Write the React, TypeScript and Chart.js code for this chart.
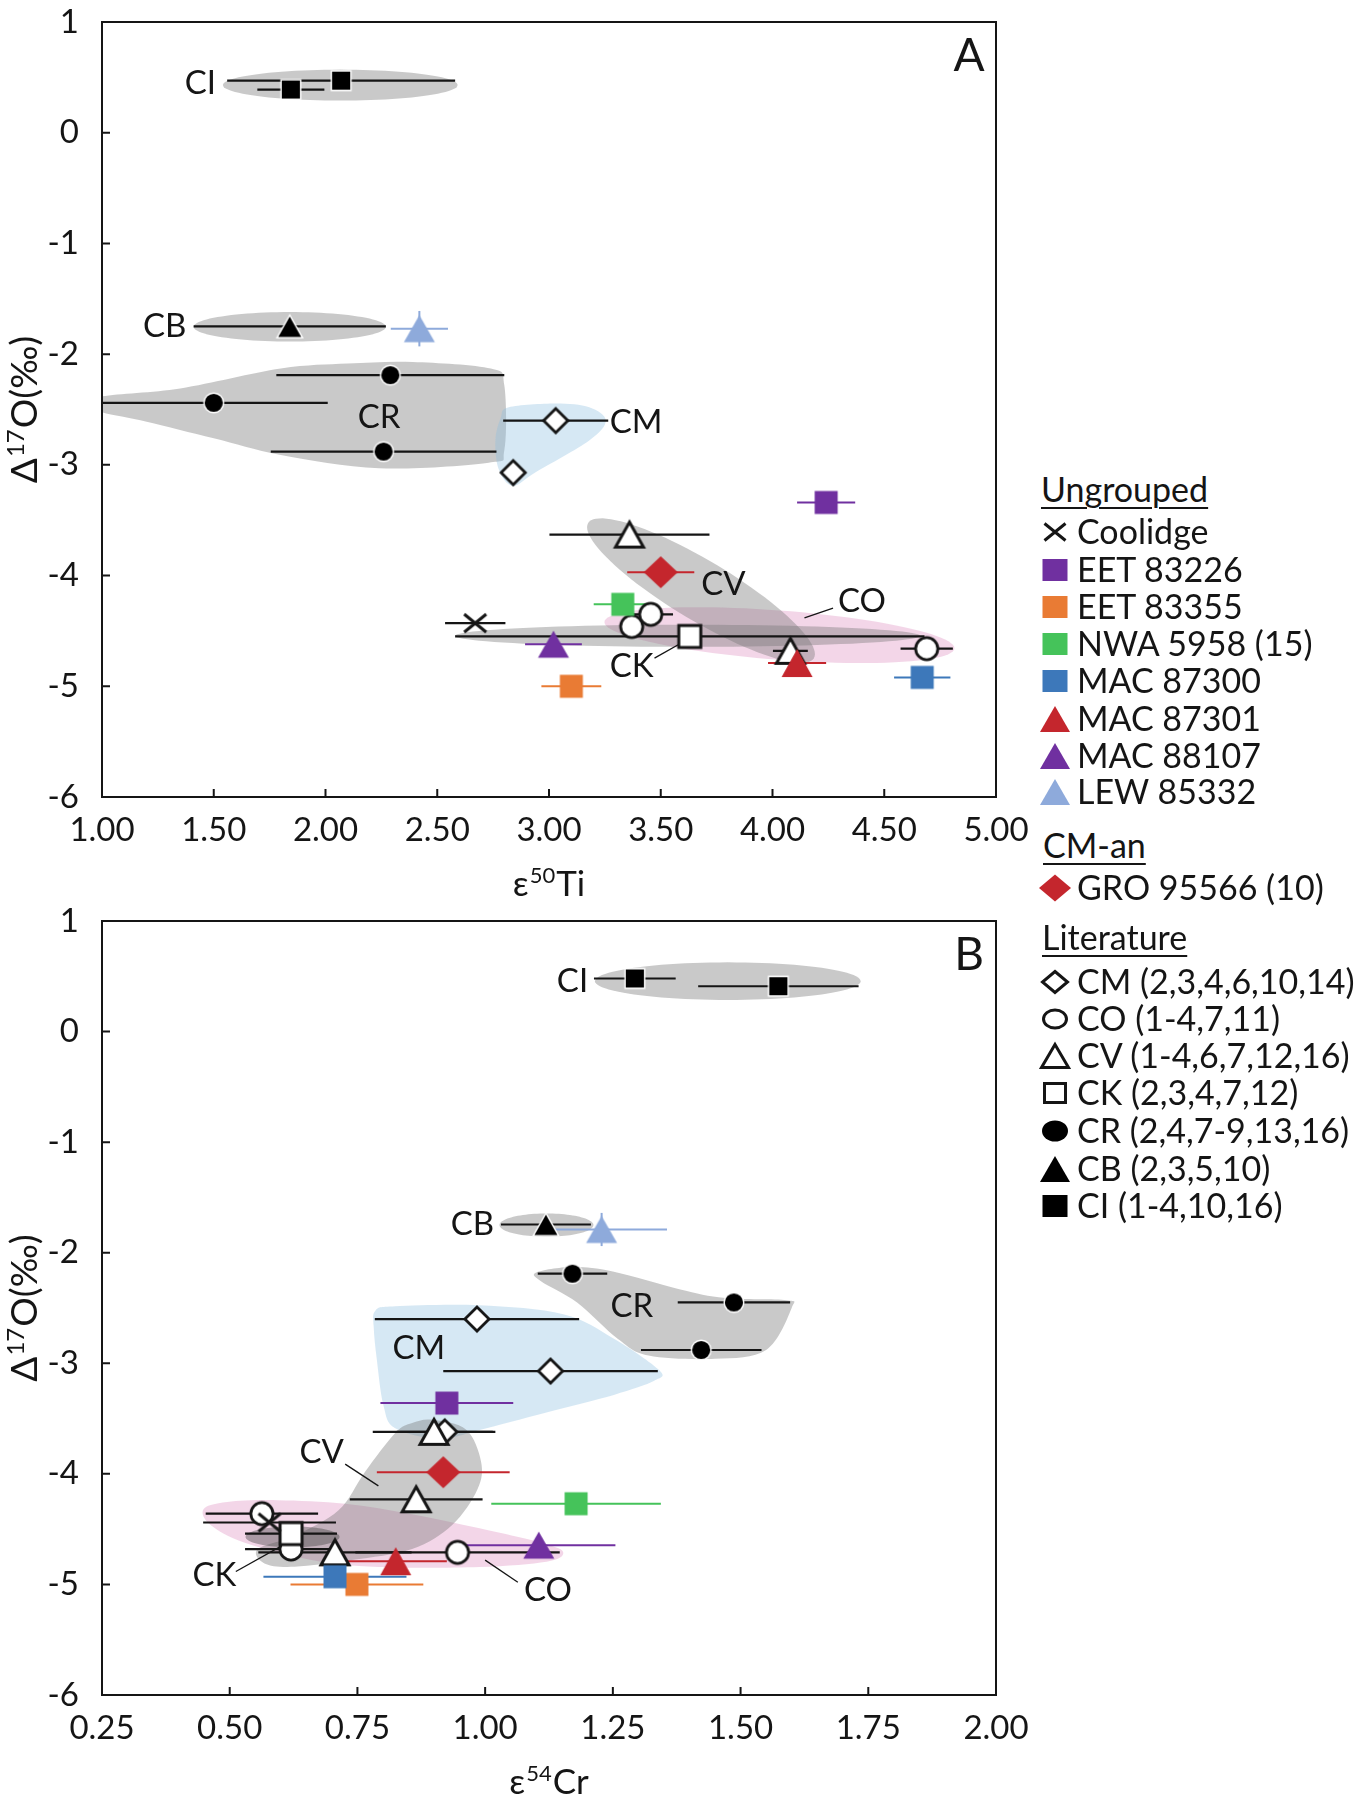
import React, { useEffect, useRef } from 'react';
import { Chart, registerables } from 'chart.js';

Chart.register(...registerables);

const FONT = 'Lato, "Noto Sans", "DejaVu Sans", sans-serif';
const INK = '#151515';
const PURPLE = '#7030a0';
const ORANGE = '#e97b34';
const GREEN = '#45c35a';
const BLUE = '#3d78ba';
const RED = '#c4262d';
const LIGHTBLUE = '#8eaadb';
const GRAY_FILL = 'rgba(120,120,120,0.40)';
const DARK_FILL = 'rgba(70,70,70,0.42)';
const BLUE_FILL = 'rgba(140,190,225,0.36)';
const PINK_FILL = 'rgba(214,120,180,0.30)';

// ===== Tick labels =====
const A_X_TICKS = [1.0, 1.5, 2.0, 2.5, 3.0, 3.5, 4.0, 4.5, 5.0];
const B_X_TICKS = [0.25, 0.5, 0.75, 1.0, 1.25, 1.5, 1.75, 2.0];
const Y_TICKS = [1, 0, -1, -2, -3, -4, -5, -6];

// ===== Panel A: x = ε50Ti, y = Δ17O (‰); each point = [x, y, ±x error] =====
const A_COOLIDGE = [[2.67, -4.43, 0.135]];
const A_EET83226 = [[4.24, -3.34, 0.13]];
const A_EET83355 = [[3.10, -5.00, 0.134]];
const A_NWA5958 = [[3.33, -4.26, 0.13]];
const A_MAC87300 = [[4.67, -4.92, 0.126]];
const A_MAC87301 = [[4.11, -4.79, 0.13]];
const A_MAC88107 = [[3.02, -4.62, 0.127]];
const A_LEW85332 = [[2.42, -1.77, 0.128]];
const A_LEW85332_YERR = [0.16];
const A_GRO95566 = [[3.50, -3.97, 0.15]];
const A_CM = [[3.03, -2.60, 0.235], [2.84, -3.07, 0]];
const A_CO = [[3.37, -4.46, 0.05], [3.455, -4.35, 0.10], [4.69, -4.66, 0.117]];
const A_CV = [[3.36, -3.63, 0.358], [4.08, -4.68, 0.078]];
const A_CK = [[3.63, -4.55, 1.05]];
const A_CR = [[2.29, -2.19, 0.51], [1.50, -2.44, 0.51], [2.26, -2.88, 0.505]];
const A_CB = [[1.84, -1.75, 0.43]];
const A_CI = [[1.845, 0.39, 0.15], [2.07, 0.47, 0.51]];

// group fields, panel A (data coordinates)
const A_CR_FIELD = [[0.98, -2.39], [1.35, -2.31], [1.80, -2.13], [2.10, -2.085], [2.39, -2.07], [2.74, -2.13], [2.80, -2.28], [2.80, -2.87], [2.73, -2.98], [2.24, -3.03], [1.80, -2.91], [1.50, -2.76], [1.20, -2.61], [0.98, -2.51]];
const A_CM_FIELD = [[2.82, -2.48], [3.03, -2.446], [3.18, -2.48], [3.254, -2.60], [3.18, -2.78], [2.94, -3.067], [2.838, -3.19], [2.775, -3.04], [2.76, -2.78], [2.784, -2.575]];
// ellipses: [cx, cy, ux, uy, vx, vy]
const A_CI_ELLIPSE = [2.066, 0.43, 0.525, 0, 0, 0.14];
const A_CB_ELLIPSE = [1.84, -1.753, 0.43, 0, 0, 0.133];
const A_CO_ELLIPSE = [4.031, -4.538, 0.783, -0.118, 0, 0.223];
const A_CV_ELLIPSE = [3.68, -4.136, 0.505, -0.61, 0.069, 0.233];
const A_CK_ELLIPSE = [3.62, -4.544, 1.04, 0, 0, 0.1];

const A_GROUP_LABELS = [['CI', 1.44, 0.45], ['CB', 1.28, -1.75], ['CR', 2.24, -2.575], ['CM', 3.39, -2.62], ['CV', 3.78, -4.08], ['CO', 4.40, -4.23], ['CK', 3.37, -4.82]];
const A_LEADERS = [[4.143, -4.383, 4.271, -4.294], [3.472, -4.746, 3.59, -4.611]];

// ===== Panel B: x = ε54Cr, y = Δ17O (‰); each point = [x, y, ±x error] =====
const B_COOLIDGE = [[0.578, -4.44, 0.13]];
const B_EET83226 = [[0.925, -3.36, 0.13]];
const B_EET83355 = [[0.749, -5.00, 0.13]];
const B_NWA5958 = [[1.178, -4.27, 0.166]];
const B_MAC87300 = [[0.706, -4.93, 0.14]];
const B_MAC87301 = [[0.825, -4.79, 0.10]];
const B_MAC88107 = [[1.105, -4.645, 0.15]];
const B_LEW85332 = [[1.228, -1.79, 0.128]];
const B_LEW85332_YERR = [0.15];
const B_GRO95566 = [[0.918, -3.985, 0.13]];
const B_CM = [[0.984, -2.60, 0.20], [1.128, -3.07, 0.21], [0.921, -3.62, 0.094]];
const B_CO = [[0.563, -4.36, 0.11], [0.62, -4.68, 0.09], [0.946, -4.71, 0.20]];
const B_CV = [[0.90, -3.62, 0.12], [0.865, -4.23, 0.13], [0.706, -4.71, 0.15]];
const B_CK = [[0.62, -4.54, 0.09]];
const B_CR = [[1.171, -2.19, 0.068], [1.487, -2.45, 0.11], [1.423, -2.88, 0.118]];
const B_CB = [[1.119, -1.745, 0.088]];
const B_CI = [[1.293, 0.48, 0.08], [1.574, 0.41, 0.157]];

const B_CR_FIELD = [[1.10, -2.18], [1.17, -2.13], [1.25, -2.17], [1.38, -2.33], [1.47, -2.41], [1.59, -2.43], [1.60, -2.50], [1.55, -2.88], [1.45, -2.96], [1.32, -2.93], [1.26, -2.78], [1.18, -2.45], [1.11, -2.26]];
const B_CM_FIELD = [[0.785, -2.524], [0.824, -2.485], [0.989, -2.476], [1.153, -2.556], [1.252, -2.777], [1.341, -3.064], [1.331, -3.159], [1.252, -3.286], [1.120, -3.444], [0.989, -3.603], [0.910, -3.683], [0.824, -3.587], [0.801, -3.381], [0.788, -2.968], [0.782, -2.682]];
const B_CO_FIELD = [[0.449, -4.318], [0.495, -4.254], [0.594, -4.238], [0.726, -4.270], [0.857, -4.365], [0.989, -4.493], [1.120, -4.636], [1.153, -4.715], [1.120, -4.794], [0.989, -4.842], [0.791, -4.842], [0.660, -4.778], [0.528, -4.621], [0.462, -4.461]];
const B_CV_FIELD = [[0.897, -3.51], [0.963, -3.60], [0.992, -3.89], [0.985, -4.14], [0.936, -4.46], [0.857, -4.68], [0.739, -4.78], [0.627, -4.84], [0.568, -4.81], [0.555, -4.68], [0.627, -4.56], [0.713, -4.33], [0.765, -3.98], [0.824, -3.63], [0.857, -3.54]];
const B_CI_ELLIPSE = [1.475, 0.456, 0.26, 0, 0, 0.17];
const B_CB_ELLIPSE = [1.12, -1.75, 0.092, 0, 0, 0.105];
const B_CK_ELLIPSE = [0.623, -4.57, 0.092, 0, 0, 0.095];

const B_GROUP_LABELS = [['CI', 1.171, 0.458], ['CB', 0.975, -1.746], ['CR', 1.287, -2.489], ['CM', 0.87, -2.861], ['CV', 0.68, -3.806], ['CK', 0.47, -4.921], ['CO', 1.123, -5.054]];
const B_LEADERS = [[0.726, -3.912, 0.791, -4.109], [0.512, -4.883, 0.62, -4.604], [1.0, -4.78, 1.064, -4.98]];

// ===== Legend texts =====
const LEGEND_UNGROUPED = ['Coolidge', 'EET 83226', 'EET 83355', 'NWA 5958 (15)', 'MAC 87300', 'MAC 87301', 'MAC 88107', 'LEW 85332'];
const LEGEND_CMAN = ['GRO 95566 (10)'];
const LEGEND_LIT = ['CM (2,3,4,6,10,14)', 'CO (1-4,7,11)', 'CV (1-4,6,7,12,16)', 'CK (2,3,4,7,12)', 'CR (2,4,7-9,13,16)', 'CB (2,3,5,10)', 'CI (1-4,10,16)'];

type Mk = { shape: string; w: number; h: number; fill?: string; stroke?: string; lw?: number };
const MARKERS: Record<string, Mk> = {
  coolidge: { shape: 'x', w: 25, h: 21, stroke: INK, lw: 3 },
  eet83226: { shape: 'square', w: 23, h: 23, fill: PURPLE },
  eet83355: { shape: 'square', w: 23, h: 23, fill: ORANGE },
  nwa: { shape: 'square', w: 23, h: 23, fill: GREEN },
  mac87300: { shape: 'square', w: 23, h: 23, fill: BLUE },
  mac87301: { shape: 'triangle', w: 31, h: 28, fill: RED },
  mac88107: { shape: 'triangle', w: 31, h: 27, fill: PURPLE },
  lew: { shape: 'triangle', w: 31, h: 27, fill: LIGHTBLUE },
  gro: { shape: 'diamond', w: 34, h: 32, fill: RED },
  cm: { shape: 'diamond', w: 27, h: 27, fill: '#fff', stroke: INK, lw: 2.8 },
  co: { shape: 'circle', w: 25, h: 25, fill: '#fff', stroke: INK, lw: 2.8 },
  cv: { shape: 'triangle', w: 31, h: 28, fill: '#fff', stroke: INK, lw: 3 },
  ck: { shape: 'square', w: 25, h: 25, fill: '#fff', stroke: INK, lw: 3 },
  cr: { shape: 'circle', w: 21, h: 21, fill: '#000', stroke: '#fff', lw: 1.4 },
  cb: { shape: 'triangle', w: 27, h: 24, fill: '#000', stroke: '#fff', lw: 1.4 },
  ci: { shape: 'square', w: 21, h: 21, fill: '#000', stroke: '#fff', lw: 1.4 },
};

// legend icon sizes
const LEGEND_ICONS: Record<string, Mk> = {
  coolidge: { shape: 'x', w: 24, h: 20, stroke: INK, lw: 3 },
  eet83226: { shape: 'square', w: 25, h: 22, fill: PURPLE },
  eet83355: { shape: 'square', w: 25, h: 22, fill: ORANGE },
  nwa: { shape: 'square', w: 25, h: 22, fill: GREEN },
  mac87300: { shape: 'square', w: 25, h: 22, fill: BLUE },
  mac87301: { shape: 'triangle', w: 30, h: 26, fill: RED },
  mac88107: { shape: 'triangle', w: 30, h: 26, fill: PURPLE },
  lew: { shape: 'triangle', w: 30, h: 26, fill: LIGHTBLUE },
  gro: { shape: 'diamond', w: 32, h: 27, fill: RED },
  cm: { shape: 'diamond', w: 28, h: 24, fill: '#fff', stroke: INK, lw: 3 },
  co: { shape: 'circle', w: 26, h: 21, fill: '#fff', stroke: INK, lw: 3 },
  cv: { shape: 'triangle', w: 30, h: 26, fill: '#fff', stroke: INK, lw: 3 },
  ck: { shape: 'square', w: 24, h: 22, fill: '#fff', stroke: INK, lw: 3 },
  cr: { shape: 'circle', w: 26, h: 21, fill: '#000' },
  cb: { shape: 'triangle', w: 30, h: 26, fill: '#000' },
  ci: { shape: 'square', w: 25, h: 22, fill: '#000' },
};

const LEGEND_KEYS_UNGROUPED = ['coolidge', 'eet83226', 'eet83355', 'nwa', 'mac87300', 'mac87301', 'mac88107', 'lew'];
const LEGEND_KEYS_LIT = ['cm', 'co', 'cv', 'ck', 'cr', 'cb', 'ci'];

type SeriesDef = { label: string; pts: number[][]; yErr?: number[]; mk: string; bar: string };

const SERIES_A: SeriesDef[] = [
  { label: 'GRO 95566 (10)', pts: A_GRO95566, mk: 'gro', bar: RED },
  { label: 'MAC 87301', pts: A_MAC87301, mk: 'mac87301', bar: RED },
  { label: 'MAC 88107', pts: A_MAC88107, mk: 'mac88107', bar: PURPLE },
  { label: 'LEW 85332', pts: A_LEW85332, yErr: A_LEW85332_YERR, mk: 'lew', bar: LIGHTBLUE },
  { label: 'MAC 87300', pts: A_MAC87300, mk: 'mac87300', bar: BLUE },
  { label: 'NWA 5958 (15)', pts: A_NWA5958, mk: 'nwa', bar: GREEN },
  { label: 'EET 83355', pts: A_EET83355, mk: 'eet83355', bar: ORANGE },
  { label: 'EET 83226', pts: A_EET83226, mk: 'eet83226', bar: PURPLE },
  { label: 'Coolidge', pts: A_COOLIDGE, mk: 'coolidge', bar: INK },
  { label: 'CI', pts: A_CI, mk: 'ci', bar: INK },
  { label: 'CB', pts: A_CB, mk: 'cb', bar: INK },
  { label: 'CR', pts: A_CR, mk: 'cr', bar: INK },
  { label: 'CK', pts: A_CK, mk: 'ck', bar: INK },
  { label: 'CV', pts: A_CV, mk: 'cv', bar: INK },
  { label: 'CO', pts: A_CO, mk: 'co', bar: INK },
  { label: 'CM', pts: A_CM, mk: 'cm', bar: INK },
];

const SERIES_B: SeriesDef[] = [
  { label: 'GRO 95566 (10)', pts: B_GRO95566, mk: 'gro', bar: RED },
  { label: 'MAC 87301', pts: B_MAC87301, mk: 'mac87301', bar: RED },
  { label: 'MAC 88107', pts: B_MAC88107, mk: 'mac88107', bar: PURPLE },
  { label: 'LEW 85332', pts: B_LEW85332, yErr: B_LEW85332_YERR, mk: 'lew', bar: LIGHTBLUE },
  { label: 'MAC 87300', pts: B_MAC87300, mk: 'mac87300', bar: BLUE },
  { label: 'NWA 5958 (15)', pts: B_NWA5958, mk: 'nwa', bar: GREEN },
  { label: 'EET 83355', pts: B_EET83355, mk: 'eet83355', bar: ORANGE },
  { label: 'EET 83226', pts: B_EET83226, mk: 'eet83226', bar: PURPLE },
  { label: 'Coolidge', pts: B_COOLIDGE, mk: 'coolidge', bar: INK },
  { label: 'CI', pts: B_CI, mk: 'ci', bar: INK },
  { label: 'CB', pts: B_CB, mk: 'cb', bar: INK },
  { label: 'CR', pts: B_CR, mk: 'cr', bar: INK },
  { label: 'CK', pts: B_CK, mk: 'ck', bar: INK },
  { label: 'CV', pts: B_CV, mk: 'cv', bar: INK },
  { label: 'CO', pts: B_CO, mk: 'co', bar: INK },
  { label: 'CM', pts: B_CM, mk: 'cm', bar: INK },
];

type Region = { kind: 'blob' | 'ellipse'; d: number[][] | number[]; color: string };

const PANEL_A = {
  letter: 'A', xMin: 1, xMax: 5, xTicks: A_X_TICKS, xTitle: ['ε', '50', 'Ti'], padTop: 22, padBottom: 3,
  series: SERIES_A, labels: A_GROUP_LABELS, leaders: A_LEADERS,
  regions: [
    { kind: 'blob', d: A_CR_FIELD, color: GRAY_FILL },
    { kind: 'blob', d: A_CM_FIELD, color: BLUE_FILL },
    { kind: 'ellipse', d: A_CI_ELLIPSE, color: GRAY_FILL },
    { kind: 'ellipse', d: A_CB_ELLIPSE, color: GRAY_FILL },
    { kind: 'ellipse', d: A_CO_ELLIPSE, color: PINK_FILL },
    { kind: 'ellipse', d: A_CV_ELLIPSE, color: GRAY_FILL },
    { kind: 'ellipse', d: A_CK_ELLIPSE, color: GRAY_FILL },
  ] as Region[],
};

const PANEL_B = {
  letter: 'B', xMin: 0.25, xMax: 2, xTicks: B_X_TICKS, xTitle: ['ε', '54', 'Cr'], padTop: 21, padBottom: 5,
  series: SERIES_B, labels: B_GROUP_LABELS, leaders: B_LEADERS,
  regions: [
    { kind: 'ellipse', d: B_CI_ELLIPSE, color: GRAY_FILL },
    { kind: 'ellipse', d: B_CB_ELLIPSE, color: GRAY_FILL },
    { kind: 'blob', d: B_CR_FIELD, color: GRAY_FILL },
    { kind: 'blob', d: B_CM_FIELD, color: BLUE_FILL },
    { kind: 'blob', d: B_CO_FIELD, color: PINK_FILL },
    { kind: 'blob', d: B_CV_FIELD, color: GRAY_FILL },
    { kind: 'ellipse', d: B_CK_ELLIPSE, color: DARK_FILL },
  ] as Region[],
};

function markerCanvas(m: Mk): HTMLCanvasElement {
  const lw = m.lw || 0;
  let W = Math.ceil(m.w + lw + 6); if (W % 2) W++;
  let H = Math.ceil(m.h + lw + 6); if (H % 2) H++;
  const c = document.createElement('canvas');
  c.width = W; c.height = H;
  const g = c.getContext('2d') as CanvasRenderingContext2D;
  const cx = W / 2, cy = H / 2;
  const hw = (m.w - lw) / 2, hh = (m.h - lw) / 2;
  g.beginPath();
  if (m.shape === 'square') g.rect(cx - hw, cy - hh, 2 * hw, 2 * hh);
  else if (m.shape === 'circle') g.ellipse(cx, cy, hw, hh, 0, 0, Math.PI * 2);
  else if (m.shape === 'diamond') { g.moveTo(cx, cy - hh); g.lineTo(cx + hw, cy); g.lineTo(cx, cy + hh); g.lineTo(cx - hw, cy); g.closePath(); }
  else if (m.shape === 'triangle') { g.moveTo(cx, cy - hh); g.lineTo(cx + hw, cy + hh); g.lineTo(cx - hw, cy + hh); g.closePath(); }
  else if (m.shape === 'x') { g.moveTo(cx - hw, cy - hh); g.lineTo(cx + hw, cy + hh); g.moveTo(cx + hw, cy - hh); g.lineTo(cx - hw, cy + hh); }
  if (m.fill) { g.fillStyle = m.fill; g.fill(); }
  if (m.stroke && lw) { g.lineWidth = lw; g.strokeStyle = m.stroke; g.lineJoin = 'miter'; g.stroke(); }
  return c;
}

function closedSpline(ctx: CanvasRenderingContext2D, pts: number[][]) {
  const n = pts.length;
  ctx.moveTo(pts[0][0], pts[0][1]);
  for (let i = 0; i < n; i++) {
    const p0 = pts[(i - 1 + n) % n], p1 = pts[i], p2 = pts[(i + 1) % n], p3 = pts[(i + 2) % n];
    ctx.bezierCurveTo(
      p1[0] + (p2[0] - p0[0]) / 6, p1[1] + (p2[1] - p0[1]) / 6,
      p2[0] - (p3[0] - p1[0]) / 6, p2[1] - (p3[1] - p1[1]) / 6,
      p2[0], p2[1]);
  }
  ctx.closePath();
}

function drawSupText(ctx: CanvasRenderingContext2D, parts: string[], x: number, y: number, size: number) {
  const big = `${size}px ${FONT}`;
  const small = `${Math.round(size * 0.64)}px ${FONT}`;
  ctx.font = big;
  const w0 = ctx.measureText(parts[0]).width;
  const w2 = ctx.measureText(parts[2]).width;
  ctx.font = small;
  const w1 = ctx.measureText(parts[1]).width;
  let cx = x - (w0 + w1 + w2 + 2) / 2;
  ctx.textAlign = 'left';
  ctx.textBaseline = 'alphabetic';
  ctx.font = big; ctx.fillText(parts[0], cx, y); cx += w0 + 1;
  ctx.font = small; ctx.fillText(parts[1], cx, y - size * 0.36); cx += w1 + 1;
  ctx.font = big; ctx.fillText(parts[2], cx, y);
}

function overlayPlugin(panel: typeof PANEL_A) {
  return {
    id: 'overlay' + panel.letter,
    beforeDatasetsDraw(chart: any) {
      const { ctx, chartArea: ca, scales } = chart;
      const xs = scales.x, ys = scales.y;
      const P = (p: number[]) => [xs.getPixelForValue(p[0]), ys.getPixelForValue(p[1])];
      ctx.save();
      ctx.beginPath();
      ctx.rect(ca.left, ca.top, ca.right - ca.left, ca.bottom - ca.top);
      ctx.clip();
      for (const r of panel.regions) {
        ctx.beginPath();
        if (r.kind === 'blob') {
          closedSpline(ctx, (r.d as number[][]).map(P));
        } else {
          const e = r.d as number[];
          for (let k = 0; k <= 96; k++) {
            const t = (k / 96) * Math.PI * 2;
            const q = P([e[0] + e[2] * Math.cos(t) + e[4] * Math.sin(t), e[1] + e[3] * Math.cos(t) + e[5] * Math.sin(t)]);
            if (k === 0) ctx.moveTo(q[0], q[1]); else ctx.lineTo(q[0], q[1]);
          }
          ctx.closePath();
        }
        ctx.fillStyle = r.color;
        ctx.fill();
      }
      ctx.strokeStyle = INK;
      ctx.lineWidth = 1.3;
      for (const l of panel.leaders) {
        const a = P([l[0], l[1]]), b = P([l[2], l[3]]);
        ctx.beginPath(); ctx.moveTo(a[0], a[1]); ctx.lineTo(b[0], b[1]); ctx.stroke();
      }
      ctx.fillStyle = INK;
      ctx.font = `33px ${FONT}`;
      ctx.textAlign = 'center';
      ctx.textBaseline = 'middle';
      for (const lb of panel.labels) {
        const q = P([lb[1] as number, lb[2] as number]);
        ctx.fillText(lb[0] as string, q[0], q[1]);
      }
      chart.data.datasets.forEach((ds: any) => {
        ctx.strokeStyle = ds.barColor;
        ctx.lineWidth = ds.barColor === INK ? 2.2 : 2;
        ds.data.forEach((pt: any, i: number) => {
          const xe = ds.xErr[i];
          const ye = ds.yErr ? ds.yErr[i] : 0;
          if (xe > 0) {
            const a = P([pt.x - xe, pt.y]), b = P([pt.x + xe, pt.y]);
            ctx.beginPath(); ctx.moveTo(a[0], a[1]); ctx.lineTo(b[0], b[1]); ctx.stroke();
          }
          if (ye > 0) {
            const a = P([pt.x, pt.y - ye]), b = P([pt.x, pt.y + ye]);
            ctx.beginPath(); ctx.moveTo(a[0], a[1]); ctx.lineTo(b[0], b[1]); ctx.stroke();
          }
        });
      });
      ctx.restore();
    },
    afterDraw(chart: any) {
      const { ctx, chartArea: ca, scales } = chart;
      const xs = scales.x, ys = scales.y;
      ctx.save();
      ctx.strokeStyle = INK;
      ctx.lineWidth = 2;
      ctx.strokeRect(ca.left, ca.top, ca.right - ca.left, ca.bottom - ca.top);
      ctx.beginPath();
      for (const v of panel.xTicks) {
        const X = xs.getPixelForValue(v);
        ctx.moveTo(X, ca.bottom); ctx.lineTo(X, ca.bottom - 8);
      }
      for (const v of Y_TICKS) {
        const Y = ys.getPixelForValue(v);
        ctx.moveTo(ca.left, Y); ctx.lineTo(ca.left + 8, Y);
      }
      ctx.stroke();
      ctx.fillStyle = INK;
      ctx.font = `46px ${FONT}`;
      ctx.textAlign = 'center';
      ctx.textBaseline = 'middle';
      ctx.fillText(panel.letter, ca.right - 27, ca.top + 34);
      drawSupText(ctx, panel.xTitle, (ca.left + ca.right) / 2, ca.bottom + 99, 35);
      ctx.translate(25, (ca.top + ca.bottom) / 2);
      ctx.rotate(-Math.PI / 2);
      drawSupText(ctx, ['Δ', '17', 'O(‰)'], 0, 12, 37);
      ctx.restore();
    },
  };
}

const zeroPad = (s: any) => { s.paddingTop = 0; s.paddingBottom = 0; s.paddingLeft = 0; s.paddingRight = 0; };

function buildConfig(panel: typeof PANEL_A): any {
  const datasets = panel.series.map((s) => ({
    label: s.label,
    data: s.pts.map((p) => ({ x: p[0], y: p[1] })),
    xErr: s.pts.map((p) => p[2]),
    yErr: s.yErr,
    barColor: s.bar,
    pointStyle: markerCanvas(MARKERS[s.mk]),
    pointRadius: 10,
    pointHoverRadius: 10,
    showLine: false,
  }));
  const tickFont = { family: FONT, size: 33 };
  return {
    type: 'scatter',
    data: { datasets },
    options: {
      responsive: false,
      animation: false,
      devicePixelRatio: 1,
      events: [],
      layout: { padding: { left: 0, top: panel.padTop, right: 44, bottom: panel.padBottom } },
      plugins: { legend: { display: false }, tooltip: { enabled: false } },
      scales: {
        x: {
          type: 'linear', min: panel.xMin, max: panel.xMax,
          afterFit: (s: any) => { s.height = 100; zeroPad(s); },
          afterBuildTicks: (s: any) => { s.ticks = panel.xTicks.map((v) => ({ value: v })); },
          ticks: { font: tickFont, color: INK, padding: 14, maxRotation: 0, autoSkip: false, callback: (v: any) => Number(v).toFixed(2) },
          grid: { display: false, drawTicks: false },
          border: { display: false },
        },
        y: {
          type: 'linear', min: -6, max: 1,
          afterFit: (s: any) => { s.width = 102; zeroPad(s); },
          afterBuildTicks: (s: any) => { s.ticks = Y_TICKS.map((v) => ({ value: v })); },
          ticks: { font: tickFont, color: INK, padding: 23, callback: (v: any) => String(v) },
          grid: { display: false, drawTicks: false },
          border: { display: false },
        },
      },
    },
    plugins: [overlayPlugin(panel)],
  };
}

function LegendIcon({ k, cy }: { k: string; cy: number }) {
  const m = LEGEND_ICONS[k];
  const lw = m.lw || 0;
  const W = 40, H = 36, cx = 20, cyy = 18;
  const hw = (m.w - lw) / 2, hh = (m.h - lw) / 2;
  let el: any = null;
  if (m.shape === 'square') el = <rect x={cx - hw} y={cyy - hh} width={2 * hw} height={2 * hh} />;
  else if (m.shape === 'circle') el = <ellipse cx={cx} cy={cyy} rx={hw} ry={hh} />;
  else if (m.shape === 'diamond') el = <polygon points={`${cx},${cyy - hh} ${cx + hw},${cyy} ${cx},${cyy + hh} ${cx - hw},${cyy}`} />;
  else if (m.shape === 'triangle') el = <polygon points={`${cx},${cyy - hh} ${cx + hw},${cyy + hh} ${cx - hw},${cyy + hh}`} />;
  else el = <path d={`M${cx - hw},${cyy - hh}L${cx + hw},${cyy + hh}M${cx + hw},${cyy - hh}L${cx - hw},${cyy + hh}`} />;
  return (
    <svg width={W} height={H} style={{ position: 'absolute', left: 1035, top: cy - H / 2 }}>
      <g fill={m.fill || 'none'} stroke={m.stroke || 'none'} strokeWidth={lw}>{el}</g>
    </svg>
  );
}

function Legend() {
  const rowText = (t: string, cy: number, left: number, header = false) => (
    <div key={t} style={{
      position: 'absolute', left, top: cy - 21, height: 40, lineHeight: '40px', fontSize: 34,
      whiteSpace: 'nowrap', color: INK, textDecoration: header ? 'underline' : 'none',
      textDecorationThickness: header ? '2px' : undefined, textUnderlineOffset: header ? '5px' : undefined,
    }}>{t}</div>
  );
  const ungroupedY = [532, 570, 607, 644, 681, 719, 756, 792];
  const litY = [982, 1019, 1056, 1093, 1131, 1169, 1206];
  return (
    <div style={{ position: 'absolute', left: 0, top: 0, fontFamily: FONT }}>
      {rowText('Ungrouped', 490, 1041, true)}
      {LEGEND_UNGROUPED.map((t, i) => (
        <React.Fragment key={t}>
          <LegendIcon k={LEGEND_KEYS_UNGROUPED[i]} cy={ungroupedY[i]} />
          {rowText(t, ungroupedY[i], 1077)}
        </React.Fragment>
      ))}
      {rowText('CM-an', 846, 1043, true)}
      <LegendIcon k="gro" cy={888} />
      {rowText(LEGEND_CMAN[0], 888, 1077)}
      {rowText('Literature', 938, 1042, true)}
      {LEGEND_LIT.map((t, i) => (
        <React.Fragment key={t}>
          <LegendIcon k={LEGEND_KEYS_LIT[i]} cy={litY[i]} />
          {rowText(t, litY[i], 1077)}
        </React.Fragment>
      ))}
    </div>
  );
}

export default function App() {
  const refA = useRef<HTMLCanvasElement>(null);
  const refB = useRef<HTMLCanvasElement>(null);
  useEffect(() => {
    const a = new Chart(refA.current as HTMLCanvasElement, buildConfig(PANEL_A));
    const b = new Chart(refB.current as HTMLCanvasElement, buildConfig(PANEL_B as any));
    return () => { a.destroy(); b.destroy(); };
  }, []);
  return (
    <div style={{ position: 'absolute', left: 0, top: 0, width: 1363, height: 1800, background: '#fff', fontFamily: FONT, overflow: 'hidden' }}>
      <canvas ref={refA} width={1040} height={900} style={{ position: 'absolute', left: 0, top: 0 }} />
      <canvas ref={refB} width={1040} height={900} style={{ position: 'absolute', left: 0, top: 900 }} />
      <Legend />
    </div>
  );
}
